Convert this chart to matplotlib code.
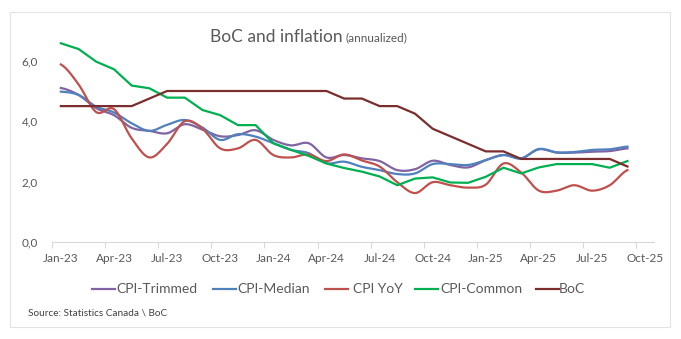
import numpy as np
import matplotlib.pyplot as plt
from matplotlib.lines import Line2D
from matplotlib.patches import Rectangle

plt.rcParams['font.family'] = ['Lato', 'DejaVu Sans']

# monthly data, Jan-23 .. Sep-25
tick_labels = ["Jan-23", "Apr-23", "Jul-23", "Oct-23", "Jan-24", "Apr-24",
               "Jul-24", "Oct-24", "Jan-25", "Apr-25", "Jul-25", "Oct-25"]

cpi_trimmed = [5.10, 4.87, 4.43, 4.20, 3.78, 3.68, 3.60, 3.90, 3.72, 3.50, 3.54,
               3.70, 3.38, 3.20, 3.27, 2.80, 2.88, 2.77, 2.68, 2.38, 2.41, 2.69,
               2.55, 2.47, 2.71, 2.88, 2.77, 3.07, 2.96, 2.96, 2.99, 3.01, 3.10]
cpi_median = [4.98, 4.87, 4.48, 4.29, 3.93, 3.68, 3.88, 4.04, 3.79, 3.38, 3.57,
              3.49, 3.27, 3.05, 2.94, 2.61, 2.66, 2.49, 2.38, 2.25, 2.27, 2.58,
              2.58, 2.55, 2.71, 2.88, 2.77, 3.08, 2.97, 2.98, 3.05, 3.07, 3.16]
cpi_yoy = [5.88, 5.22, 4.30, 4.40, 3.43, 2.80, 3.25, 4.00, 3.75, 3.10, 3.10,
           3.38, 2.88, 2.80, 2.90, 2.68, 2.90, 2.70, 2.50, 1.98, 1.62, 1.98,
           1.88, 1.80, 1.90, 2.60, 2.30, 1.70, 1.70, 1.88, 1.70, 1.88, 2.38]
cpi_common = [6.58, 6.39, 5.97, 5.72, 5.18, 5.09, 4.78, 4.78, 4.37, 4.20, 3.87,
              3.87, 3.27, 3.05, 2.85, 2.60, 2.45, 2.33, 2.17, 1.88, 2.10, 2.14,
              1.97, 1.96, 2.16, 2.46, 2.27, 2.47, 2.58, 2.58, 2.58, 2.46, 2.68]
boc = [4.50, 4.50, 4.50, 4.50, 4.50, 4.75, 5.00, 5.00, 5.00, 5.00, 5.00,
       5.00, 5.00, 5.00, 5.00, 5.00, 4.75, 4.75, 4.50, 4.50, 4.25, 3.75,
       3.50, 3.25, 3.00, 3.00, 2.75, 2.75, 2.75, 2.75, 2.75, 2.75, 2.50]

names = ["CPI-Trimmed", "CPI-Median", "CPI YoY", "CPI-Common", "BoC"]
colors = ["#8064A2", "#4F81BD", "#C0504D", "#00B050", "#7B2D2D"]
smoothed = [True, True, True, False, False]


def catmull_rom(x, y, n=12):
    x = np.asarray(x, float)
    y = np.asarray(y, float)
    px = np.concatenate([[2 * x[0] - x[1]], x, [2 * x[-1] - x[-2]]])
    py = np.concatenate([[y[0]], y, [y[-1]]])
    xs, ys = [], []
    t = np.linspace(0, 1, n, endpoint=False)
    for i in range(1, len(px) - 2):
        for p, out in ((px, xs), (py, ys)):
            p0, p1, p2, p3 = p[i - 1], p[i], p[i + 1], p[i + 2]
            out.append(0.5 * (2 * p1 + (-p0 + p2) * t
                              + (2 * p0 - 5 * p1 + 4 * p2 - p3) * t ** 2
                              + (-p0 + 3 * p1 - 3 * p2 + p3) * t ** 3))
    xs.append([x[-1]])
    ys.append([y[-1]])
    return np.concatenate(xs), np.concatenate(ys)


W, H = 681, 339
fig = plt.figure(figsize=(W / 100, H / 100), dpi=100)
ax = fig.add_axes([52 / W, (H - 242) / H, 602 / W, 211.4 / H])

x = np.arange(len(boc)) + 0.5
series = [cpi_trimmed, cpi_median, cpi_yoy, cpi_common, boc]
for vals, name, c, sm in zip(series, names, colors, smoothed):
    if sm:
        xx, yy = catmull_rom(x, vals)
    else:
        xx, yy = x, vals
    ax.plot(xx, yy, color=c, lw=1.6, label=name, solid_joinstyle='round')

ax.set_xlim(0, 34)
ax.set_ylim(0, 7)
ax.set_yticks([0, 2, 4, 6])
ax.set_yticklabels(["0,0", "2,0", "4,0", "6,0"])
ax.set_xticks(np.arange(0, 34, 3))
ax.set_xticklabels([])
ax.set_xticks(np.arange(0, 34, 3) + 0.5, minor=True)
ax.set_xticklabels(tick_labels, minor=True)
ax.tick_params(axis='x', which='major', length=4, color='#d9d9d9', width=0.8)
ax.tick_params(axis='x', which='minor', length=0, pad=8, labelsize=8.5,
               labelcolor='#595959')
ax.tick_params(axis='y', length=0, pad=10, labelsize=8.5, labelcolor='#595959')
for s in ['top', 'right', 'left']:
    ax.spines[s].set_visible(False)
ax.spines['bottom'].set_color('#d9d9d9')
ax.spines['bottom'].set_linewidth(0.8)

# title
fig.text(210 / W, 1 - 37 / H, "BoC and inflation", fontsize=12.5,
         color='#595959', ha='left', va='center')
fig.text(346 / W, 1 - 38 / H, "(annualized)", fontsize=8.5,
         color='#595959', ha='left', va='center')

# legend
leg_x = [92, 213, 325, 415, 536]
leg_gap = [1, 1, 5, 2, 0]
for lx, gap, name, c in zip(leg_x, leg_gap, names, colors):
    fig.add_artist(Line2D([lx / W, (lx + 23) / W], [1 - 289 / H] * 2,
                          color=c, lw=1.6, transform=fig.transFigure))
    fig.text((lx + 23 + gap) / W, 1 - 289 / H, name, fontsize=10,
             color='#595959', ha='left', va='center')

fig.text(28 / W, 1 - 313 / H, "Source: Statistics Canada \\ BoC", fontsize=7.2,
         color='#404040', ha='left', va='center')

fig.add_artist(Rectangle((10 / W, 12 / H), 660 / W, 315 / H, fill=False,
                         edgecolor='#e3e3e3', lw=0.8, transform=fig.transFigure))

fig.savefig("out.png", dpi=100)
